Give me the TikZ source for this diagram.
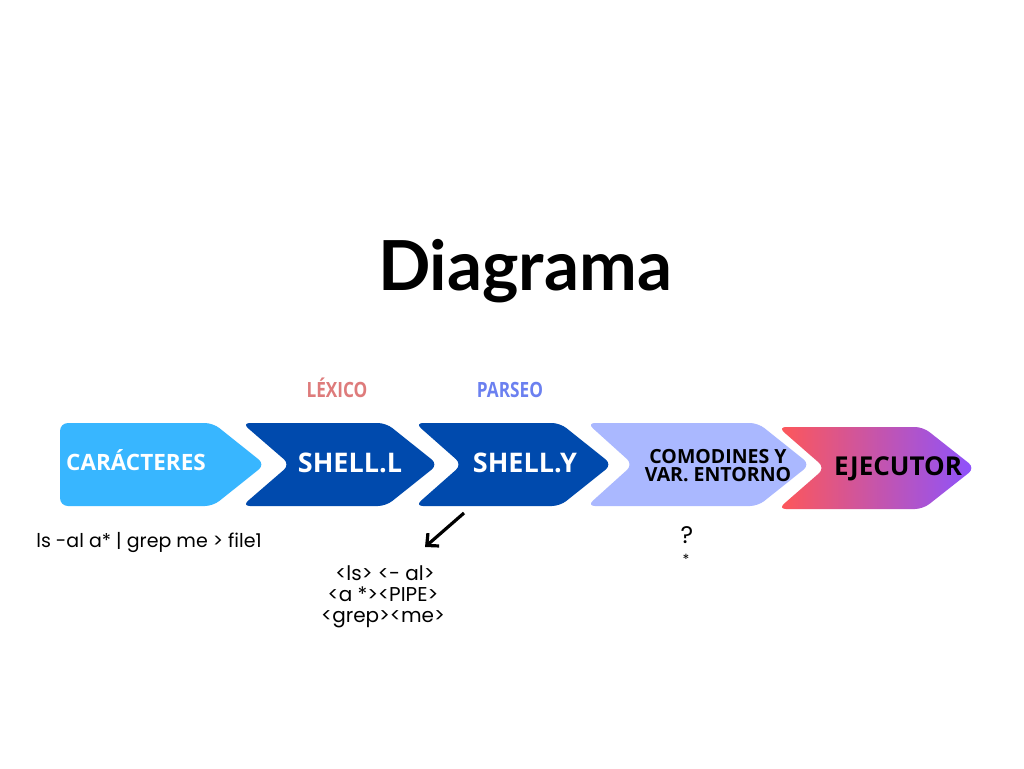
\documentclass[tikz,border=0pt]{standalone}
\usepackage{fontspec}
\setmainfont{Open Sans}
\newfontfamily\titlefont{Lato}
\newfontfamily\condfont[FakeStretch=0.82]{Open Sans}
\newfontfamily\geofont{Poppins}
\usetikzlibrary{arrows.meta,shadings}
\definecolor{skyc}{HTML}{38B6FF}
\definecolor{navyc}{HTML}{004AAD}
\definecolor{periwc}{HTML}{AAB8FF}
\definecolor{redc}{HTML}{FF5757}
\definecolor{purpc}{HTML}{8C52FF}
\definecolor{lexc}{HTML}{DE7B7B}
\definecolor{parc}{HTML}{6B80F0}
\begin{document}
\begin{tikzpicture}[x=1pt,y=-1pt,
  chev/.style={rounded corners=8pt},
  boxlbl/.style={anchor=base,inner sep=0pt,font=\bfseries},
  stagelbl/.style={anchor=base,inner sep=0pt,font=\condfont\bfseries\fontsize{21}{21}\selectfont},
  plain/.style={anchor=base,inner sep=0pt,font=\geofont\fontsize{19}{19}\selectfont}]
\useasboundingbox[fill=white] (0,0) rectangle (1024,768);
% title
\node[anchor=base,inner sep=0pt,font=\titlefont\bfseries\fontsize{69}{69}\selectfont] (title) at (525,290) {Diagrama};
% chevrons
\fill[skyc,chev] (60,423) -- (213,423) -- (265,464.5) -- (213,506) -- (60,506) -- cycle;
\fill[navyc,chev] (242,423) -- (386,423) -- (438,464.5) -- (386,506) -- (242,506) -- (290,464.5) -- cycle;
\fill[navyc,chev] (415,423) -- (560,423) -- (612,464.5) -- (560,506) -- (415,506) -- (462,464.5) -- cycle;
\fill[periwc,chev] (587,423) -- (758,423) -- (810,464.5) -- (758,506) -- (587,506) -- (633,464.5) -- cycle;
\shade[left color=redc,right color=purpc,chev] (778,427) -- (923,427) -- (975,468) -- (923,509) -- (778,509) -- (825,468) -- cycle;
% box labels
\node[boxlbl,text=white,font=\bfseries\fontsize{22.5}{22.5}\selectfont] (car) at (136,470.5) {CARÁCTERES};
\node[boxlbl,text=white,font=\bfseries\fontsize{27}{27}\selectfont] (shl) at (350,472) {SHELL.L};
\node[boxlbl,text=white,font=\bfseries\fontsize{27}{27}\selectfont] (shy) at (525,472) {SHELL.Y};
\node[boxlbl,text=black,font=\bfseries\fontsize{19.5}{19.5}\selectfont] (com1) at (718,463) {COMODINES Y};
\node[boxlbl,text=black,font=\bfseries\fontsize{19.5}{19.5}\selectfont] (com2) at (718,481) {VAR. ENTORNO};
\node[boxlbl,text=black,font=\bfseries\fontsize{26}{26}\selectfont] (eje) at (898,475) {EJECUTOR};
% stage labels
\node[stagelbl,text=lexc] (lex) at (337,397) {LÉXICO};
\node[stagelbl,text=parc] (par) at (510,397) {PARSEO};
% bottom texts
\node[plain] (cmd) at (149,547) {ls -al a* | grep me > file1};
\node[plain,font=\geofont\fontsize{20}{20}\selectfont] (tok1) at (385,580) {<ls> <- al>};
\node[plain,font=\geofont\fontsize{20}{20}\selectfont] (tok2) at (383,601) {<a *><PIPE>};
\node[plain,font=\geofont\fontsize{20}{20}\selectfont] (tok3) at (383,622) {<grep><me>};
\node[plain,font=\geofont\fontsize{24}{24}\selectfont] (q) at (687,543) {?};
\node[plain,font=\geofont\fontsize{14}{14}\selectfont] (st) at (686,564) {*};
% arrow
\coordinate (as) at (464,513);
\coordinate (ae) at (425,547);
\draw[line width=3.2pt,-{Straight Barb[length=9pt,width=17pt,line width=3.2pt]}] (as) -- (ae);
\end{tikzpicture}
\end{document}
